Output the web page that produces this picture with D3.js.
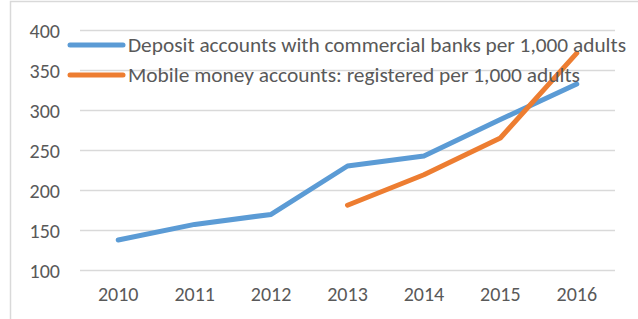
<!DOCTYPE html>
<html><head><meta charset="utf-8">
<script src="https://cdn.jsdelivr.net/npm/d3@7"></script>
<style>body{margin:0;background:#fff}svg{display:block}</style>
</head><body>
<svg id="c" width="638" height="319"></svg>
<script>
const years = ["2010","2011","2012","2013","2014","2015","2016"];
const deposit = [137.5, 157, 169.5, 230, 242.5, 288, 332.5];
const mobile = [null, null, null, 181, 219, 265, 371];
const yTicks = [100,150,200,250,300,350,400];
const seriesNames = ["Deposit accounts with commercial banks per 1,000 adults","Mobile money accounts: registered per 1,000 adults"];
const colors = ["#5B9BD5","#ED7D31"];

const svg = d3.select("#c");
const font = "Calibri, Carlito, 'Liberation Sans', Arial, sans-serif";
svg.append("rect").attr("x",10.5).attr("y",1.5).attr("width",660).attr("height",340)
  .attr("fill","none").attr("stroke","#D9D9D9").attr("stroke-width",1.5);

const x = d3.scaleBand().domain(years).range([80,615]);
const y = d3.scaleLinear().domain([100,400]).range([270,30]);

const gy = svg.append("g").attr("transform","translate(80,0)")
  .call(d3.axisLeft(y).tickValues(yTicks).tickSize(-535).tickPadding(20));
gy.select(".domain").remove();
gy.selectAll("line").attr("stroke","#D9D9D9").attr("stroke-width",1.5);
gy.selectAll("text").attr("fill","#595959").style("font-family",font).style("font-size","20px").attr("dy","0.35em");

const gx = svg.append("g").attr("transform","translate(0,270)")
  .call(d3.axisBottom(x).tickSize(0).tickPadding(17));
gx.select(".domain").remove();
gx.selectAll("text").attr("fill","#595959").style("font-family",font).style("font-size","20px");

const line = d3.line().defined(d=>d!=null)
  .x((d,i)=>x(years[i])+x.bandwidth()/2).y(d=>y(d));
[deposit, mobile].forEach((s,k)=>{
  svg.append("path").attr("d",line(s)).attr("fill","none").attr("stroke",colors[k])
    .attr("stroke-width",5).attr("stroke-linecap","round").attr("stroke-linejoin","round");
});

const legY = [45, 75];
const legW = [498, 452];
seriesNames.forEach((n,k)=>{
  svg.append("line").attr("x1",70).attr("x2",123).attr("y1",legY[k]).attr("y2",legY[k])
    .attr("stroke",colors[k]).attr("stroke-width",5).attr("stroke-linecap","round");
  svg.append("text").attr("x",128).attr("y",legY[k]+7).text(n)
    .attr("fill","#595959").style("font-family",font).style("font-size","20px")
    .attr("textLength",legW[k]).attr("lengthAdjust","spacingAndGlyphs");
});
</script>
</body></html>
